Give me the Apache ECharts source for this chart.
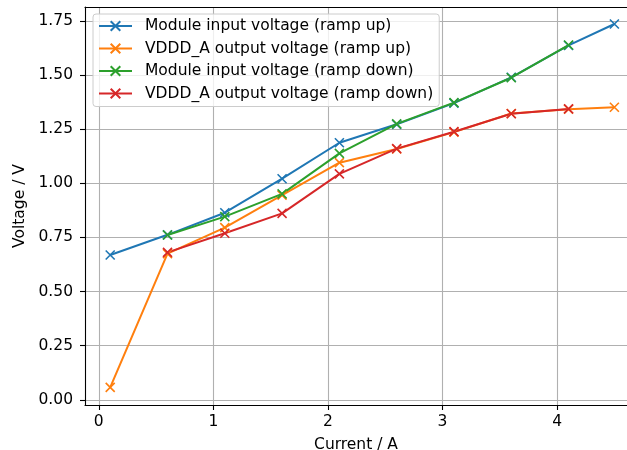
<!DOCTYPE html>
<html>
<head>
<meta charset="utf-8">
<script src="https://cdn.jsdelivr.net/npm/echarts@6/dist/echarts.min.js"></script>
<style>
  html, body { margin: 0; padding: 0; background: #fff; overflow: hidden; }
  #chart { position: absolute; left: 0; top: 0; width: 627px; height: 450px; }
</style>
</head>
<body>
<div id="chart"></div>
<script>
// Load current (A) for each measurement step
const currentUp = [0.1, 0.6, 1.1, 1.6, 2.1, 2.6, 3.1, 3.6, 4.1, 4.5];
const currentDown = [0.6, 1.1, 1.6, 2.1, 2.6, 3.1, 3.6, 4.1];

// Measured voltages (V)
const moduleInputUp = [0.669, 0.762, 0.864, 1.021, 1.187, 1.272, 1.370, 1.489, 1.636, 1.735];
const vdddOutputUp = [0.058, 0.675, 0.795, 0.945, 1.095, 1.158, 1.236, 1.322, 1.342, 1.351];
const moduleInputDown = [0.761, 0.846, 0.951, 1.138, 1.274, 1.372, 1.487, 1.638];
const vdddOutputDown = [0.681, 0.769, 0.861, 1.043, 1.160, 1.238, 1.321, 1.343];

const seriesNames = [
  'Module input voltage (ramp up)',
  'VDDD_A output voltage (ramp up)',
  'Module input voltage (ramp down)',
  'VDDD_A output voltage (ramp down)'
];
const colors = ['#1f77b4', '#ff7f0e', '#2ca02c', '#d62728'];

const xTicks = [0, 1, 2, 3, 4];
const yTicks = [0, 0.25, 0.5, 0.75, 1.0, 1.25, 1.5, 1.75];

const FONT = 'DejaVu Sans';
const FS = 15.5;
const crossMark = 'path://M0,0L10,10M10,0L0,10';

function pairs(xs, ys) {
  return xs.map((x, i) => [x, ys[i]]);
}

function lineSeries(name, color, data) {
  return {
    name: name,
    type: 'line',
    data: data,
    xAxisIndex: 0,
    yAxisIndex: 0,
    symbol: crossMark,
    symbolSize: 9,
    showAllSymbol: true,
    lineStyle: { color: color, width: 2 },
    itemStyle: { color: color, borderColor: color, borderWidth: 1.6 },
    emphasis: { disabled: true },
    animation: false
  };
}

const chart = echarts.init(document.getElementById('chart'), null, { renderer: 'canvas', width: 627, height: 450 });

chart.setOption({
  animation: false,
  backgroundColor: '#ffffff',
  textStyle: { fontFamily: FONT },
  grid: { left: 85, right: 0, top: 7, bottom: 45, containLabel: false, outerBoundsMode: 'none' },
  legend: {
    orient: 'vertical',
    left: 93,
    top: 14,
    padding: [4, 6, 5, 5],
    itemWidth: 33,
    itemHeight: 12,
    itemGap: 6.5,
    backgroundColor: 'rgba(255,255,255,0.8)',
    borderColor: '#cccccc',
    borderWidth: 1,
    borderRadius: 3,
    textStyle: { fontFamily: FONT, fontSize: FS, color: '#000', padding: [0, 0, 0, 8], lineHeight: 15.5 },
    data: seriesNames
  },
  xAxis: [
    {
      type: 'value',
      min: -0.12,
      max: 4.61,
      position: 'bottom',
      name: 'Current / A',
      nameLocation: 'middle',
      nameGap: 32,
      nameTextStyle: { fontFamily: FONT, fontSize: FS, color: '#000' },
      axisLine: { show: true, onZero: false, lineStyle: { color: '#000', width: 1.1 } },
      axisTick: { show: true, length: 5, lineStyle: { color: '#000', width: 1.1 }, customValues: xTicks },
      axisLabel: { show: true, margin: 9, fontFamily: FONT, fontSize: FS, color: '#000', customValues: xTicks,
        formatter: v => String(v) },
      splitLine: { show: true, lineStyle: { color: '#b0b0b0', width: 1.1 } }
    },
    {
      type: 'value',
      min: -0.12,
      max: 4.61,
      position: 'top',
      axisLine: { show: true, onZero: false, lineStyle: { color: '#000', width: 1.1 } },
      axisTick: { show: false },
      axisLabel: { show: false },
      splitLine: { show: false }
    }
  ],
  yAxis: {
    type: 'value',
    min: -0.0235,
    max: 1.8135,
    name: 'Voltage / V',
    nameLocation: 'middle',
    nameGap: 52,
    nameTextStyle: { fontFamily: FONT, fontSize: FS, color: '#000' },
    axisLine: { show: true, onZero: false, lineStyle: { color: '#000', width: 1.1 } },
    axisTick: { show: true, length: 5, lineStyle: { color: '#000', width: 1.1 }, customValues: yTicks },
    axisLabel: { show: true, margin: 12, fontFamily: FONT, fontSize: FS, color: '#000', customValues: yTicks,
      formatter: v => v.toFixed(2) },
    splitLine: { show: true, lineStyle: { color: '#b0b0b0', width: 1.1 } }
  },
  series: [
    lineSeries(seriesNames[0], colors[0], pairs(currentUp, moduleInputUp)),
    lineSeries(seriesNames[1], colors[1], pairs(currentUp, vdddOutputUp)),
    lineSeries(seriesNames[2], colors[2], pairs(currentDown, moduleInputDown)),
    lineSeries(seriesNames[3], colors[3], pairs(currentDown, vdddOutputDown))
  ]
});
</script>
</body>
</html>
